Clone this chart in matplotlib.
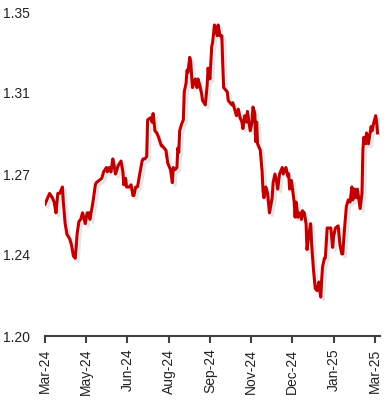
import numpy as np
import pandas as pd
import matplotlib
matplotlib.use("Agg")
import matplotlib.pyplot as plt
import matplotlib.dates as mdates
import matplotlib.patheffects as pe

# days since 21 Mar 2024, and the exchange rate
start = pd.Timestamp("2024-03-21")
days = [0, 1, 3, 5, 8, 10, 12, 14, 16, 19, 20, 21, 22, 24, 27, 29, 31, 33, 34, 35,
        36, 37, 39, 41, 44, 46, 48, 49, 52, 55, 56, 59, 62, 64, 67, 68, 70, 72, 74, 75,
        77, 80, 83, 85, 86, 88, 89, 92, 94, 96, 97, 99, 101, 103, 106, 107, 109, 111, 112, 115,
        117, 118, 120, 122, 124, 127, 128, 130, 132, 134, 135, 137, 139, 140, 142, 144, 145, 146, 147, 149,
        151, 152, 154, 155, 156, 158, 159, 160, 161, 164, 166, 167, 169, 171, 172, 175, 177, 178, 180, 182,
        183, 185, 188, 189, 191, 193, 194, 195, 199, 200, 202, 204, 205, 207, 209, 211, 213, 215, 216, 218,
        220, 221, 224, 226, 227, 229, 230, 231, 232, 235, 237, 238, 239, 241, 243, 245, 248, 249, 251, 253,
        254, 256, 259, 260, 263, 265, 266, 267, 269, 272, 273, 274, 275, 276, 278, 280, 281, 283, 285, 286,
        288, 290, 291, 293, 295, 297, 299, 301, 302, 303, 305, 306, 308, 310, 312, 314, 315, 317, 320, 322,
        324, 325, 327, 329, 331, 333, 335, 336, 338, 340, 341, 344, 346, 347, 348, 350, 351, 353, 356, 357,
        359, 361, 362, 363]
rate = [1.261, 1.262, 1.264, 1.266, 1.264, 1.262, 1.257, 1.266, 1.266, 1.269, 1.262, 1.257, 1.252, 1.247, 1.245, 1.242, 1.237, 1.236, 1.241, 1.247,
        1.250, 1.253, 1.254, 1.257, 1.252, 1.257, 1.257, 1.254, 1.261, 1.270, 1.271, 1.272, 1.273, 1.276, 1.278, 1.276, 1.278, 1.276, 1.282, 1.280,
        1.275, 1.279, 1.281, 1.276, 1.270, 1.273, 1.269, 1.269, 1.270, 1.265, 1.265, 1.269, 1.269, 1.274, 1.281, 1.282, 1.282, 1.283, 1.300, 1.301,
        1.299, 1.303, 1.295, 1.294, 1.292, 1.288, 1.288, 1.287, 1.286, 1.280, 1.279, 1.277, 1.271, 1.278, 1.277, 1.278, 1.287, 1.285, 1.295, 1.298,
        1.300, 1.313, 1.317, 1.323, 1.322, 1.329, 1.327, 1.321, 1.315, 1.319, 1.315, 1.319, 1.316, 1.312, 1.309, 1.307, 1.316, 1.324, 1.319, 1.334,
        1.336, 1.344, 1.339, 1.344, 1.339, 1.339, 1.326, 1.315, 1.313, 1.309, 1.308, 1.307, 1.308, 1.305, 1.302, 1.305, 1.301, 1.299, 1.296, 1.302,
        1.299, 1.304, 1.295, 1.299, 1.306, 1.303, 1.290, 1.299, 1.289, 1.286, 1.276, 1.267, 1.264, 1.269, 1.266, 1.257, 1.264, 1.271, 1.275, 1.271,
        1.268, 1.275, 1.278, 1.275, 1.278, 1.274, 1.275, 1.268, 1.272, 1.262, 1.255, 1.262, 1.259, 1.255, 1.257, 1.254, 1.258, 1.257, 1.252, 1.240,
        1.247, 1.252, 1.243, 1.231, 1.222, 1.221, 1.225, 1.218, 1.226, 1.232, 1.236, 1.236, 1.250, 1.250, 1.250, 1.241, 1.246, 1.250, 1.251, 1.242,
        1.238, 1.238, 1.250, 1.260, 1.263, 1.262, 1.269, 1.263, 1.268, 1.264, 1.268, 1.259, 1.266, 1.286, 1.292, 1.289, 1.294, 1.289, 1.297, 1.295,
        1.299, 1.302, 1.299, 1.294]

tick_step = 45  # days between axis labels
y_ticks = [1.20, 1.2375, 1.275, 1.3125, 1.35]

dates = start + pd.to_timedelta(days, unit="D")
tick_dates = [start + pd.Timedelta(days=tick_step * k) for k in range(9)]

plt.rcParams['font.family'] = ['Liberation Sans', 'DejaVu Sans']

fig = plt.figure(figsize=(3.92, 4.0), dpi=100)
ax = fig.add_axes([0.1148, 0.16, 0.969 - 0.1148, 0.81])

ax.plot(dates, rate, color='#C00000', linewidth=2.2, solid_joinstyle='round',
        path_effects=[pe.SimpleLineShadow(offset=(2, -2), shadow_color='#999999', alpha=0.25),
                      pe.Normal()])

ax.set_xlim(start, start + pd.Timedelta(days=365.5))
ax.set_ylim(1.20, 1.35)
ax.set_yticks(y_ticks)
ax.yaxis.set_major_formatter(plt.FuncFormatter(lambda v, p: f"{v:.2f}"))
ax.set_xticks(tick_dates)
ax.xaxis.set_major_formatter(mdates.DateFormatter('%b-%y'))

for side in ['top', 'right', 'left']:
    ax.spines[side].set_visible(False)
ax.spines['bottom'].set_color('#404040')
ax.spines['bottom'].set_linewidth(1.5)

ax.tick_params(axis='y', length=0, pad=11, labelsize=10, labelcolor='#222222')
ax.tick_params(axis='x', direction='out', length=5, width=1.5, color='#404040',
               labelsize=10, labelrotation=90, pad=4, labelcolor='#222222')

fig.savefig('out.png', dpi=100)
